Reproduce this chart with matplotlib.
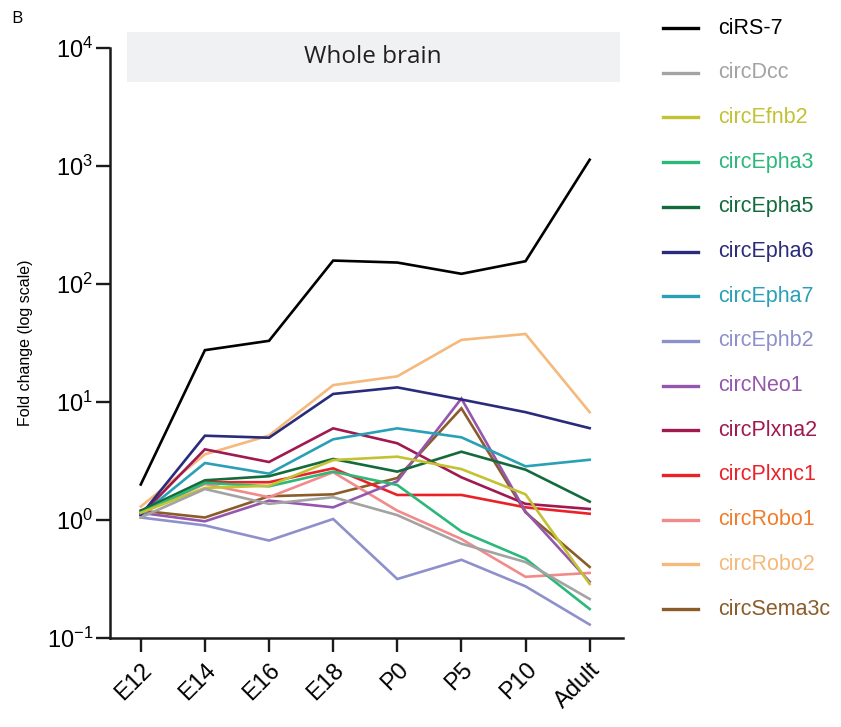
import matplotlib
matplotlib.use('Agg')
import matplotlib.pyplot as plt
from matplotlib.lines import Line2D
from matplotlib.patches import Rectangle
from matplotlib.ticker import LogLocator, NullLocator

plt.rcParams['font.family'] = ['Liberation Sans', 'DejaVu Sans']
plt.rcParams['mathtext.fontset'] = 'custom'
plt.rcParams['mathtext.rm'] = 'Liberation Sans'
plt.rcParams['mathtext.it'] = 'Liberation Sans'
plt.rcParams['axes.unicode_minus'] = False

stages = ['E12', 'E14', 'E16', 'E18', 'P0', 'P5', 'P10', 'Adult']

# fold change per circRNA
ciRS7      = [2.0, 27.5, 33.0, 158, 152, 122, 156, 1130]
circDcc    = [1.05, 1.83, 1.37, 1.56, 1.10, 0.63, 0.44, 0.214]
circEfnb2  = [1.15, 1.87, 1.95, 3.22, 3.44, 2.70, 1.65, 0.287]
circEpha3  = [1.15, 2.06, 1.93, 2.57, 1.98, 0.80, 0.47, 0.176]
circEpha5  = [1.2, 2.17, 2.35, 3.29, 2.57, 3.79, 2.67, 1.43]
circEpha6  = [1.1, 5.18, 4.98, 11.7, 13.3, 10.5, 8.2, 6.0]
circEpha7  = [1.1, 3.04, 2.47, 4.83, 5.98, 5.02, 2.85, 3.24]
circEphb2  = [1.05, 0.90, 0.67, 1.02, 0.316, 0.46, 0.274, 0.13]
circNeo1   = [1.15, 0.975, 1.46, 1.28, 2.13, 10.7, 1.18, 0.30]
circPlxna2 = [1.1, 3.97, 3.1, 5.98, 4.47, 2.30, 1.37, 1.24]
circPlxnc1 = [1.15, 2.09, 2.09, 2.74, 1.63, 1.63, 1.28, 1.13]
circRobo1  = [1.15, 2.02, 1.56, 2.54, 1.20, 0.69, 0.33, 0.356]
circRobo2  = [1.3, 3.6, 5.2, 13.9, 16.5, 33.6, 37.7, 8.2]
circSema3c = [1.2, 1.05, 1.59, 1.65, 2.27, 8.84, 1.16, 0.40]

names = ['ciRS-7', 'circDcc', 'circEfnb2', 'circEpha3', 'circEpha5', 'circEpha6',
         'circEpha7', 'circEphb2', 'circNeo1', 'circPlxna2', 'circPlxnc1',
         'circRobo1', 'circRobo2', 'circSema3c']
series = [ciRS7, circDcc, circEfnb2, circEpha3, circEpha5, circEpha6, circEpha7,
          circEphb2, circNeo1, circPlxna2, circPlxnc1, circRobo1, circRobo2, circSema3c]
line_colors = ['#000000', '#a3a3a3', '#c2c232', '#2bb87a', '#136b3c', '#2b2b7b',
               '#2aa0b6', '#8e90cc', '#9557ad', '#a0194f', '#ea2228', '#f38a8a',
               '#f5b97c', '#8b5c2a']
text_colors = list(line_colors)
text_colors[11] = '#f07d2c'  # label of circRobo1 is orange in the original

fig = plt.figure(figsize=(8.41, 7.27), dpi=100)
W, H = 841, 727
ax = fig.add_axes([110 / W, 1 - 638 / H, (623 - 110) / W, (638 - 48) / H])

x = list(range(len(stages)))
# draw the lower ones first so the order matches roughly
for name, vals, c in zip(names[::-1], series[::-1], line_colors[::-1]):
    ax.plot(x, vals, color=c, lw=1.9, solid_joinstyle='miter', clip_on=False)

ax.set_yscale('log')
ax.set_ylim(0.1, 1e4)
ax.set_xlim(-0.48, 7.52)
ax.yaxis.set_major_locator(LogLocator(base=10, numticks=10))
ax.yaxis.set_minor_locator(NullLocator())
ax.set_xticks(x)
ax.set_xticklabels(stages, rotation=45, ha='right', va='top', rotation_mode='anchor')
ax.tick_params(axis='both', which='major', direction='out', length=10, width=1.7,
               labelsize=17, pad=2, color='#1a1a1a')
ax.tick_params(axis='x', pad=5)
for s in ['top', 'right']:
    ax.spines[s].set_visible(False)
for s in ['left', 'bottom']:
    ax.spines[s].set_linewidth(1.8)
    ax.spines[s].set_color('#1a1a1a')
ax.set_ylabel('Fold change (log scale)', fontsize=11.5, labelpad=10)

# grey header box
ax.add_patch(Rectangle((0.033, 0.9425), 0.961, 0.085, transform=ax.transAxes,
                       facecolor='#f0f1f3', edgecolor='none', clip_on=False, zorder=0))
ax.text(0.513, 0.985, 'Whole brain', transform=ax.transAxes, ha='center', va='center',
        fontsize=17.5, family=['Open Sans', 'DejaVu Sans'], color='#231f20')

fig.text(11 / W, 1 - 19 / H, 'B', fontsize=12.5, ha='left', va='center',
         family=['Open Sans', 'DejaVu Sans'])

# legend drawn by hand
for i, (name, lc, tc) in enumerate(zip(names, line_colors, text_colors)):
    yy = 1 - (28 + i * 44.7) / H
    fig.add_artist(Line2D([663 / W, 698 / W], [yy, yy], color=lc, lw=2.4,
                          transform=fig.transFigure))
    fig.text(718 / W, yy, name, color=tc, fontsize=15.5, ha='left', va='center')

fig.savefig('out.png', dpi=100)
